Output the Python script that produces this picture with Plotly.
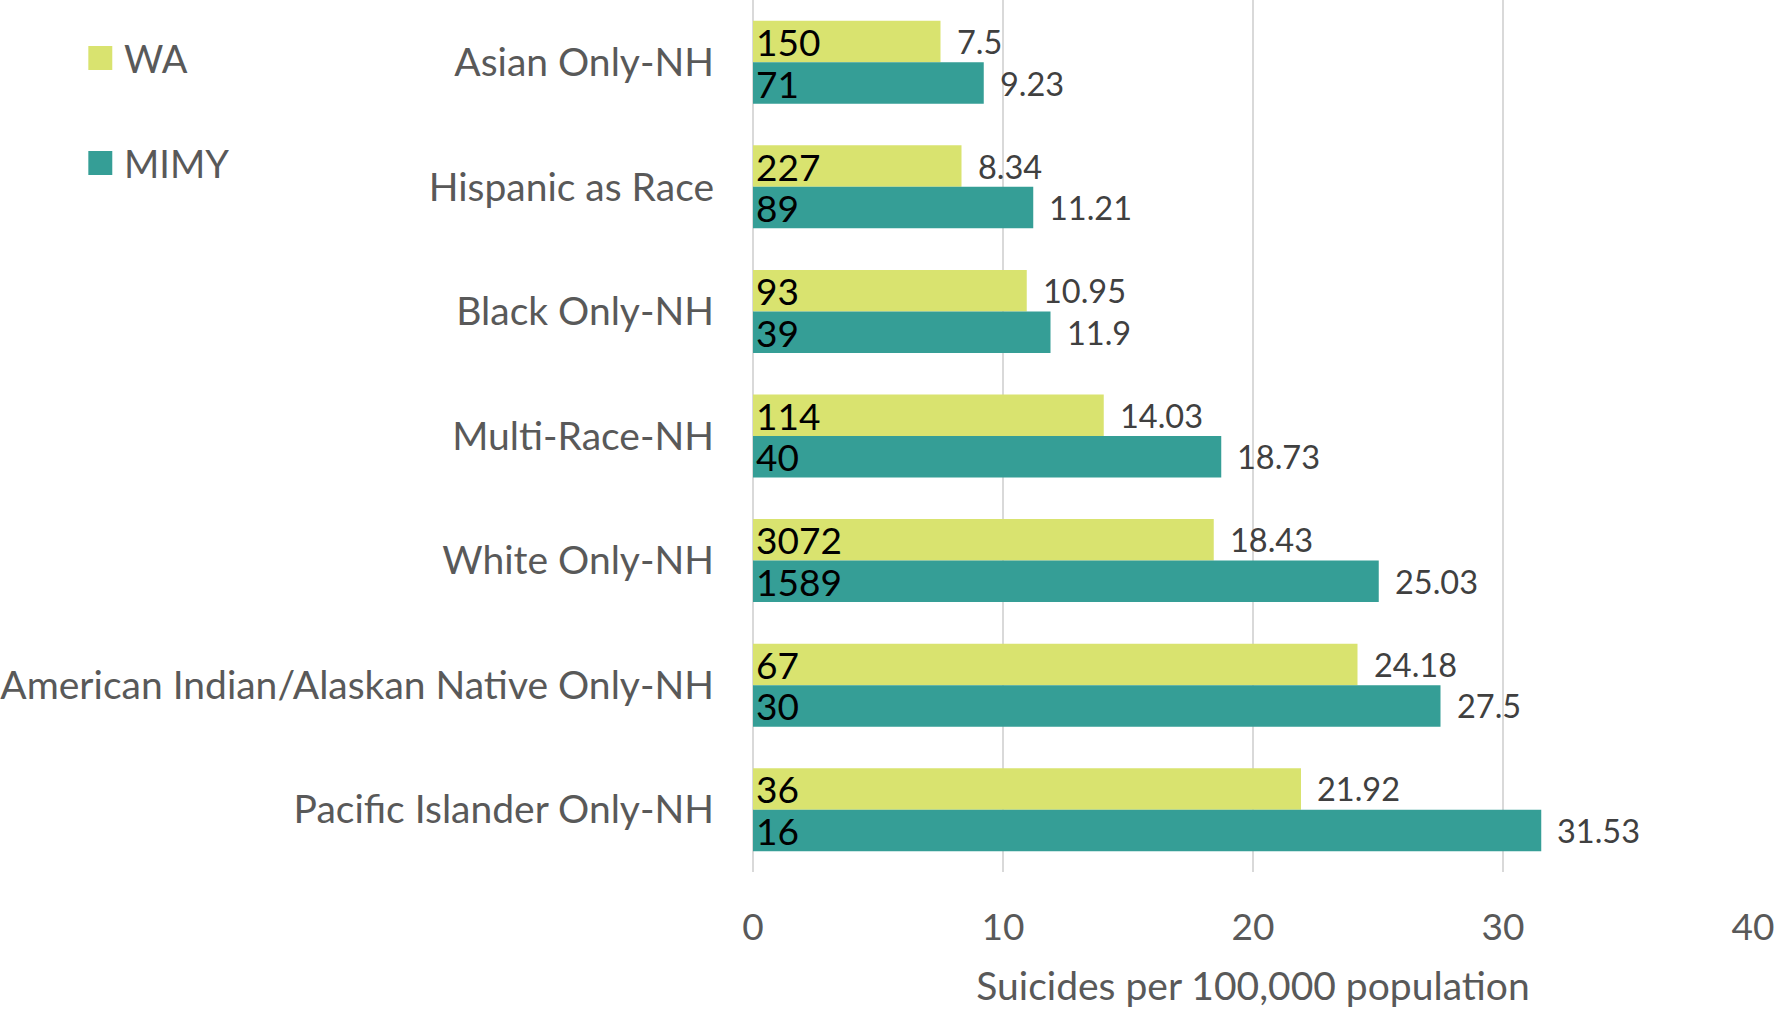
import plotly.graph_objects as go

categories = ["Asian Only-NH", "Hispanic as Race", "Black Only-NH", "Multi-Race-NH",
              "White Only-NH", "American Indian/Alaskan Native Only-NH", "Pacific Islander Only-NH"]
series_names = ["WA", "MIMY"]
wa_rates = [7.5, 8.34, 10.95, 14.03, 18.43, 24.18, 21.92]
mimy_rates = [9.23, 11.21, 11.9, 18.73, 25.03, 27.5, 31.53]
wa_counts = [150, 227, 93, 114, 3072, 67, 36]
mimy_counts = [71, 89, 39, 40, 1589, 30, 16]
x_ticks = [0, 10, 20, 30, 40]
x_title = "Suicides per 100,000 population"

colors = ["#D9E36F", "#359E96"]
FONT = "Lato, 'Open Sans', sans-serif"
BAR_W = 0.333

W, H = 1776, 1013
ML, MR, MT, MB = 751, 23, 0, 141
PW, PH = W - ML - MR, H - MT - MB

idx = list(range(len(categories)))
fig = go.Figure()
series = [(wa_rates, wa_counts, -1), (mimy_rates, mimy_counts, 1)]
for (rates, counts, sgn), name, col in zip(series, series_names, colors):
    ys = [i + sgn * BAR_W / 2 for i in idx]
    fig.add_trace(go.Bar(
        x=rates, y=ys, orientation="h", width=BAR_W, name=name,
        marker=dict(color=col, line=dict(width=0)),
        text=[str(c) for c in counts], textposition="inside", insidetextanchor="start",
        textangle=0, constraintext="none", cliponaxis=False,
        textfont=dict(family=FONT, size=37, color="black"),
        showlegend=False, hoverinfo="skip",
    ))
    for r, y in zip(rates, ys):
        fig.add_annotation(x=r, y=y, xref="x", yref="y", text=f"{r:g}", showarrow=False,
                           xanchor="left", yanchor="middle", xshift=14,
                           font=dict(family=FONT, size=32.5, color="#404040"))

# custom legend
leg_y = [58, 163]
for name, col, yp in zip(series_names, colors, leg_y):
    fig.add_shape(type="rect", xref="paper", yref="paper",
                  x0=(85 - ML) / PW, x1=(109 - ML) / PW,
                  y0=1 - (yp + 12 - MT) / PH, y1=1 - (yp - 12 - MT) / PH,
                  fillcolor=col, line=dict(width=0))
    fig.add_annotation(xref="paper", yref="paper", x=(119 - ML) / PW, y=1 - (yp - MT) / PH,
                       text=name, showarrow=False, xanchor="left", yanchor="middle",
                       font=dict(family=FONT, size=38, color="#595959"))

fig.update_layout(
    width=W, height=H, barmode="overlay",
    margin=dict(l=ML, r=MR, t=MT, b=MB),
    plot_bgcolor="white", paper_bgcolor="white",
    font=dict(family=FONT, color="#595959"),
    xaxis=dict(range=[0, 40], tickvals=x_ticks, showgrid=True, gridcolor="#D9D9D9", gridwidth=1.5,
               zeroline=True, zerolinecolor="#D9D9D9", zerolinewidth=1.5, showline=False,
               tickfont=dict(family=FONT, size=37, color="#595959"), ticklabelstandoff=30,
               title=dict(text=x_title, font=dict(family=FONT, size=39, color="#595959"), standoff=25)),
    yaxis=dict(range=[len(categories) - 0.5, -0.5], tickvals=idx, ticktext=categories,
               showgrid=False, zeroline=False, showline=False,
               tickfont=dict(family=FONT, size=39, color="#595959"), ticklabelstandoff=38),
)

fig.write_html("out.html", config={"displayModeBar": False},
               post_script="document.body.style.margin='0';document.body.style.overflow='hidden';")
